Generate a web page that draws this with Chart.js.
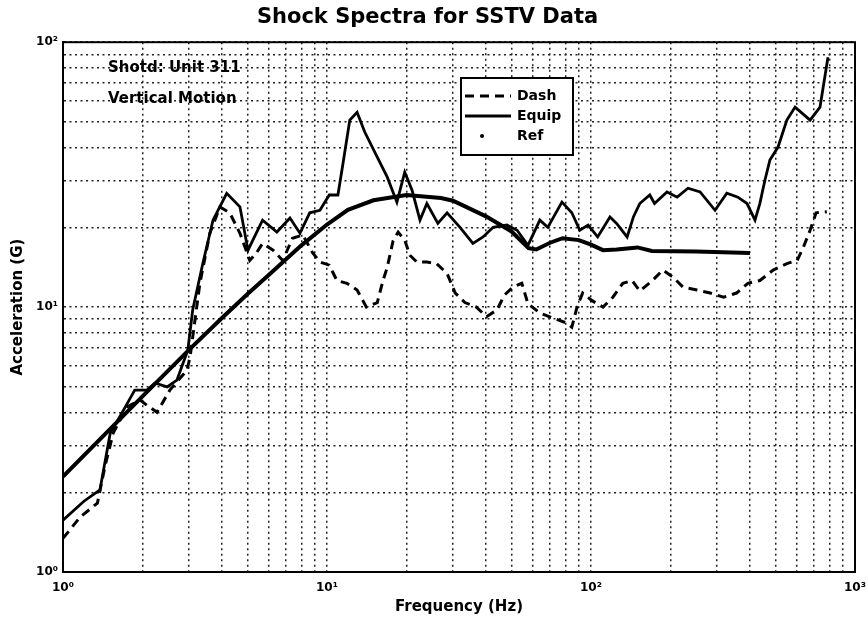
<!DOCTYPE html>
<html>
<head>
<meta charset="utf-8">
<script src="https://cdn.jsdelivr.net/npm/chart.js@4.4.0/dist/chart.umd.min.js"></script>
<style>
  html, body { margin: 0; padding: 0; background: #fff; }
  canvas { display: block; }
</style>
</head>
<body>
<canvas id="spectra" width="868" height="623"></canvas>
<script>
// values (frequency in Hz, acceleration in G)
const dashFreq = [1.0, 1.16, 1.35, 1.44, 1.55, 1.75, 1.96, 2.08, 2.27, 2.54, 2.95, 3.03, 3.3, 3.6, 3.93, 4.28, 4.68, 5.1, 5.4, 5.7,
  6.25, 6.8, 7.4, 8.1, 8.8, 9.4, 10.2, 10.9, 11.9, 13, 14.1, 15.5, 16.3, 16.9, 17.8, 18.6, 19.7, 20.6, 21.9, 23.9,
  26, 28.5, 30.6, 33.3, 36.8, 40.2, 44, 47, 50.6, 54.7, 57.7, 64, 71.7, 81, 84.6, 88.5, 93, 100.6, 111, 121,
  132, 143, 153, 171, 187, 204, 223, 252, 283, 318, 356, 393, 436, 490, 552, 604, 637, 676, 712, 782];
const dashAccel = [1.34, 1.61, 1.82, 2.49, 3.35, 4.2, 4.46, 4.26, 4.01, 4.86, 5.78, 6.5, 12.3, 19.0, 23.9, 22.7, 19.0, 15.0, 16.0, 17.4,
  16.4, 15.0, 18.2, 18.7, 16.1, 14.8, 14.4, 12.6, 12.3, 11.6, 10.0, 10.4, 12.6, 14.1, 17.8, 19.2, 17.9, 15.7, 14.8, 14.8,
  14.6, 13.4, 11.3, 10.4, 10.0, 9.2, 9.75, 11.1, 11.9, 12.3, 10.3, 9.5, 9.1, 8.7, 8.4, 10.0, 11.3, 10.6, 10.0, 10.9,
  12.3, 12.6, 11.5, 12.6, 13.8, 13.0, 11.9, 11.6, 11.3, 10.9, 11.3, 12.3, 12.6, 13.8, 14.6, 15.0, 16.8, 19.5, 22.7, 22.9];

const equipFreq = [1.0, 1.2, 1.38, 1.51, 1.67, 1.87, 2.08, 2.23, 2.48, 2.7, 2.97, 3.1, 3.39, 3.7, 4.17, 4.68, 5.02, 5.7, 6.46, 7.24,
  7.9, 8.6, 9.4, 10.2, 11.0, 11.5, 12.2, 13.0, 13.9, 15.5, 16.9, 18.4, 19.7, 21.0, 22.5, 23.9, 26.3, 28.5, 31.9, 35.7,
  39, 42.6, 48, 52.5, 57.7, 64, 68.6, 77.6, 84.6, 90.7, 97.5, 106, 118, 125, 137, 145, 153, 167, 174, 194,
  212, 233, 259, 295, 327, 360, 390, 418, 436, 456, 476, 511, 552, 593, 676, 737, 790];
const equipAccel = [1.57, 1.85, 2.04, 3.35, 3.98, 4.86, 4.86, 5.17, 5.0, 5.3, 6.88, 9.77, 14.7, 21.3, 26.9, 23.9, 16.4, 21.3, 19.2, 21.7,
  19.0, 22.7, 23.2, 26.5, 26.5, 34.9, 50.8, 54.4, 45.8, 36.8, 31.0, 24.9, 32.3, 27.6, 21.3, 24.6, 20.7, 22.7, 20.0, 17.4,
  18.4, 20.0, 20.4, 19.5, 17.1, 21.3, 20.0, 24.9, 22.7, 19.5, 20.4, 18.4, 21.9, 20.7, 18.4, 22.0, 24.6, 26.5, 24.6, 27.2,
  26.0, 28.1, 27.2, 23.2, 26.9, 26.0, 24.6, 21.3, 24.6, 30.2, 35.9, 40.2, 50.8, 56.9, 50.8, 56.9, 87.8];

const refFreq = [1, 2, 3, 4, 5, 6, 8, 10, 12, 15, 20, 27, 30, 40, 50, 58, 62, 70, 78, 90,
  100, 111, 125, 150, 170, 250, 400];
const refAccel = [2.29, 4.6, 6.9, 9.1, 11.2, 13.2, 17.1, 20.5, 23.3, 25.3, 26.5, 25.8, 25.2, 22.0, 19.3, 16.7, 16.5, 17.5, 18.2, 17.9,
  17.2, 16.4, 16.5, 16.8, 16.3, 16.2, 16.0];

const freqTicks = [1, 2, 3, 4, 5, 6, 7, 8, 9, 10, 20, 30, 40, 50, 60, 70, 80, 90,
  100, 200, 300, 400, 500, 600, 700, 800, 900, 1000];
const accelTicks = [1, 2, 3, 4, 5, 6, 7, 8, 9, 10, 20, 30, 40, 50, 60, 70, 80, 90, 100];
const decadeLabels = { 1: '10⁰', 10: '10¹', 100: '10²', 1000: '10³' };
const notes = ['Shotd: Unit 311', 'Vertical Motion'];

function pairs(xs, ys) {
  return xs.map((x, i) => ({ x: x, y: ys[i] }));
}

Chart.defaults.font.family = "'DejaVu Sans', sans-serif";
Chart.defaults.color = '#000';

// MATLAB style box round the axes, text notes and the legend inside the plot
const figureExtras = {
  id: 'figureExtras',
  afterDraw(chart) {
    const ctx = chart.ctx;
    const a = chart.chartArea;
    ctx.save();
    ctx.strokeStyle = '#000';
    ctx.lineWidth = 2;
    ctx.strokeRect(a.left, a.top, a.right - a.left, a.bottom - a.top);

    ctx.fillStyle = '#000';
    ctx.font = "bold 15px 'DejaVu Sans'";
    ctx.textBaseline = 'alphabetic';
    ctx.fillText(notes[0], 108, 72);
    ctx.fillText(notes[1], 108, 103);

    // legend
    const bx = 461, by = 78, bw = 112, bh = 77;
    ctx.fillStyle = '#fff';
    ctx.fillRect(bx, by, bw, bh);
    ctx.strokeStyle = '#000';
    ctx.lineWidth = 2;
    ctx.strokeRect(bx, by, bw, bh);
    ctx.font = "bold 14px 'DejaVu Sans'";
    ctx.textBaseline = 'middle';
    chart.data.datasets.forEach((ds, i) => {
      const y = by + 18 + i * 20;
      ctx.strokeStyle = '#000';
      ctx.fillStyle = '#000';
      if (ds.label === 'Ref') {
        ctx.beginPath();
        ctx.arc(482, y, 2, 0, Math.PI * 2);
        ctx.fill();
      } else {
        ctx.lineWidth = ds.borderWidth;
        ctx.setLineDash(ds.borderDash || []);
        ctx.beginPath();
        ctx.moveTo(465, y);
        ctx.lineTo(511, y);
        ctx.stroke();
        ctx.setLineDash([]);
      }
      ctx.fillText(ds.label, 517, y);
    });
    ctx.restore();
  }
};

new Chart(document.getElementById('spectra'), {
  type: 'line',
  data: {
    datasets: [
      { label: 'Dash', data: pairs(dashFreq, dashAccel), borderColor: '#000', borderWidth: 3, borderDash: [9, 6] },
      { label: 'Equip', data: pairs(equipFreq, equipAccel), borderColor: '#000', borderWidth: 2.8 },
      { label: 'Ref', data: pairs(refFreq, refAccel), borderColor: '#000', borderWidth: 4 }
    ]
  },
  options: {
    responsive: false,
    animation: false,
    devicePixelRatio: 1,
    layout: { padding: { right: 13 } },
    elements: { point: { radius: 0 }, line: { tension: 0 } },
    plugins: {
      legend: { display: false },
      tooltip: { enabled: false },
      title: {
        display: true,
        text: 'Shock Spectra for SSTV Data',
        font: { size: 21, weight: 'bold' },
        color: '#000',
        padding: { top: 5, bottom: 12 }
      }
    },
    scales: {
      x: {
        type: 'logarithmic',
        min: 1,
        max: 1000,
        afterBuildTicks: s => { s.ticks = freqTicks.map(v => ({ value: v, major: v in decadeLabels })); },
        afterFit: s => { s.height = 51; s.paddingLeft = 0; s.paddingRight = 0; },
        ticks: {
          autoSkip: false, maxRotation: 0, padding: 9,
          font: { size: 12, weight: 'bold' },
          callback: v => decadeLabels[v] || ''
        },
        grid: { color: '#222', lineWidth: 1.5, drawTicks: false },
        border: { display: true, color: '#000', width: 2, dash: [2, 3.5] },
        title: { display: true, text: 'Frequency (Hz)', font: { size: 15, weight: 'bold' }, padding: { bottom: 7 } }
      },
      y: {
        type: 'logarithmic',
        min: 1,
        max: 100,
        afterBuildTicks: s => { s.ticks = accelTicks.map(v => ({ value: v, major: v in decadeLabels })); },
        afterFit: s => { s.width = 63; s.paddingTop = 0; s.paddingBottom = 0; },
        ticks: {
          autoSkip: false, padding: 5,
          font: { size: 12, weight: 'bold' },
          callback: v => decadeLabels[v] || ''
        },
        grid: { color: '#222', lineWidth: 1.5, drawTicks: false },
        border: { display: true, color: '#000', width: 2, dash: [2, 3.5] },
        title: { display: true, text: 'Acceleration (G)', font: { size: 15, weight: 'bold' }, padding: { top: 9 } }
      }
    }
  },
  plugins: [figureExtras]
});
</script>
</body>
</html>
